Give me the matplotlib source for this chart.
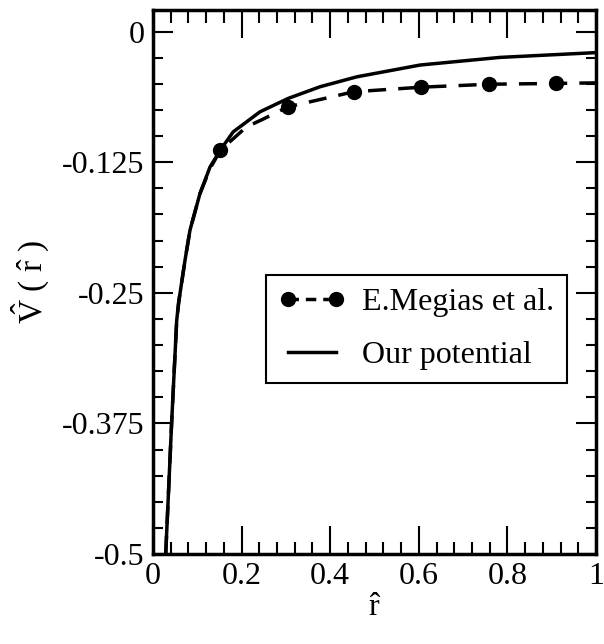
import matplotlib
matplotlib.use("Agg")
import matplotlib.pyplot as plt
from matplotlib.ticker import MultipleLocator

plt.rcParams['font.family'] = ['Liberation Serif', 'DejaVu Serif']
plt.rcParams['mathtext.fontset'] = 'custom'
plt.rcParams['mathtext.rm'] = 'Liberation Serif'
plt.rcParams['mathtext.it'] = 'Liberation Serif'

# our potential (solid curve)
r_ours = [0.0287, 0.042, 0.0535, 0.058, 0.0722, 0.0835, 0.106, 0.1287, 0.155, 0.181,
          0.2415, 0.305, 0.377, 0.46, 0.603, 0.783, 1.0]
v_ours = [-0.5, -0.375, -0.2765, -0.259, -0.219, -0.190, -0.155, -0.1295, -0.1115, -0.0959,
          -0.0767, -0.0639, -0.0527, -0.0432, -0.0319, -0.0246, -0.020]

# E.Megias et al. (dashed curve + markers)
r_meg = [0.0287, 0.042, 0.0535, 0.058, 0.0722, 0.0835, 0.106, 0.1287, 0.152, 0.211,
         0.247, 0.305, 0.37, 0.453, 0.606, 0.758, 0.909, 1.0]
v_meg = [-0.5, -0.375, -0.2765, -0.259, -0.219, -0.190, -0.155, -0.131, -0.1135, -0.0911,
         -0.084, -0.0719, -0.0656, -0.0575, -0.0531, -0.0503, -0.0495, -0.049]
r_pts = [0.152, 0.305, 0.453, 0.606, 0.758, 0.909]
v_pts = [-0.1135, -0.0719, -0.0575, -0.0531, -0.0503, -0.0495]

x_ticks = [0, 0.2, 0.4, 0.6, 0.8, 1.0]
x_labels = ['0', '0.2', '0.4', '0.6', '0.8', '1']
y_ticks = [0, -0.125, -0.25, -0.375, -0.5]
y_labels = ['0', '-0.125', '-0.25', '-0.375', '-0.5']

fig = plt.figure(figsize=(6.04, 6.44), dpi=100)
ax = fig.add_axes([0.2533, 0.1398, 0.7335, 0.8447])

dash = (0, (5.2, 3.5))
ax.plot(r_meg, v_meg, color='black', lw=2.5, linestyle=dash)
ax.plot(r_pts, v_pts, 'o', color='black', ms=10)
ax.plot(r_ours, v_ours, color='black', lw=2.5)

# legend proxies
h1, = ax.plot([], [], color='black', lw=2.5, linestyle=(0, (3, 2)), marker='o', ms=10,
              label='E.Megias et al.')
h2, = ax.plot([], [], color='black', lw=2.5, label='Our potential')
leg = ax.legend(handles=[h1, h2], loc='upper left', bbox_to_anchor=(0.255, 0.513),
                borderaxespad=0, fontsize=23, numpoints=2, handlelength=2.1,
                handletextpad=0.5, fancybox=False, framealpha=1, borderpad=0.4,
                labelspacing=0.75)
leg.get_frame().set_edgecolor('black')
leg.get_frame().set_linewidth(1.5)

ax.set_xlim(0, 1)
ax.set_ylim(-0.5, 0.0208)
ax.set_xticks(x_ticks)
ax.set_xticklabels(x_labels)
ax.set_yticks(y_ticks)
ax.set_yticklabels(y_labels)
ax.xaxis.set_minor_locator(MultipleLocator(0.04))
ax.yaxis.set_minor_locator(MultipleLocator(0.025))

ax.tick_params(axis='both', which='both', direction='in', top=True, right=True,
               width=1.5, labelsize=23)
ax.tick_params(axis='x', which='major', length=20, pad=6)
ax.tick_params(axis='x', which='minor', length=9)
ax.tick_params(axis='y', which='major', length=14.4, pad=6)
ax.tick_params(axis='y', which='minor', length=7.2)
for s in ax.spines.values():
    s.set_linewidth(2.5)

ax.set_xlabel(r'$\hat{\mathrm{r}}$', fontsize=23, labelpad=2)
ax.set_ylabel(r'$\hat{\mathrm{V}}\ (\ \hat{\mathrm{r}}\ )$', fontsize=24, labelpad=8)

plt.savefig('out.png', dpi=100)
